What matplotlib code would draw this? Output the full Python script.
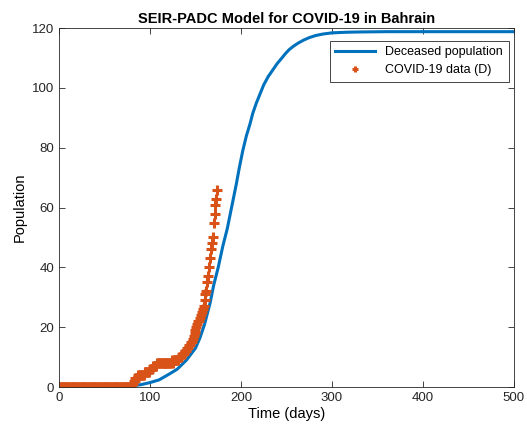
import matplotlib
matplotlib.use("Agg")
from matplotlib import pyplot as plt

plt.rcParams["font.family"] = ["Liberation Sans", "DejaVu Sans"]

# Model curve: deceased population
model_days = [0, 40, 60, 70, 80, 90, 100, 110, 122, 130, 140, 150, 155, 160,
              166, 170, 175, 180, 185, 191, 195, 198, 202, 206, 210, 213, 217,
              221, 225, 230, 235, 240, 245, 249, 253, 258, 263, 269, 275,
              282, 290, 300, 315, 330, 360, 400, 450, 500]
model_deceased = [0, 0, 0.1, 0.2, 0.4, 0.8, 1.5, 2.4, 4.5, 6, 9, 13, 16.5, 21,
                  28, 34, 40, 47, 53, 62, 68, 73, 79, 84, 88, 91.5, 95,
                  98, 101, 103.8, 106, 108.2, 110, 111.5, 112.8, 114, 115,
                  116, 116.8, 117.5, 118, 118.4, 118.6, 118.7, 118.8,
                  118.8, 118.8, 118.8]

# COVID-19 reported deaths (D), one value per day from day 0
data_deaths = [
    0, 0, 0, 0, 0, 0, 0, 0, 0, 0, 0, 0, 0, 0, 0, 0, 0, 0, 0, 0,
    0, 0, 0, 0, 0, 0, 0, 0, 0, 0, 0, 0, 0, 0, 0, 0, 0, 0, 0, 0,
    0, 0, 0, 0, 0, 0, 0, 0, 0, 0, 0, 0, 0, 0, 0, 0, 0, 0, 0, 0,
    0, 0, 0, 0, 0, 0, 0, 0, 0, 0, 0, 0, 0, 0, 0, 0, 0, 0, 0, 0,
    1, 1, 2, 2, 3, 3, 3, 4, 4, 4, 4, 4, 4, 4, 5, 5, 5, 5, 5, 5,
    6, 6, 6, 7, 7, 7, 7, 7, 8, 8, 8, 8, 8, 8, 8, 8, 8, 8, 8, 8,
    8, 8, 8, 8, 9, 8, 9, 9, 9, 9, 9, 9, 10, 10, 10, 11, 11, 11, 12, 12,
    12, 13, 13, 14, 14, 15, 15, 16, 17, 18, 19, 20, 21, 22, 22, 23, 24, 25, 26, 27,
    29, 31, 32, 35, 37, 40, 43, 46, 48, 50, 55, 58, 61, 63, 66,
]
data_days = list(range(len(data_deaths)))

fig = plt.figure(figsize=(5.27, 4.32), dpi=100)
ax = fig.add_axes([0.112, 0.104, 0.863, 0.831])

ax.plot(model_days, model_deceased, color="#0072BD", linewidth=2.2,
        label="Deceased population")
ax.plot(data_days, data_deaths, linestyle="none", marker="+",
        markersize=7, markeredgewidth=2.2, color="#D95319",
        label="COVID-19 data (D)")

ax.set_xlim(0, 500)
ax.set_ylim(0, 120)
ax.set_xticks([0, 100, 200, 300, 400, 500])
ax.set_yticks([0, 20, 40, 60, 80, 100, 120])
ax.tick_params(direction="in", top=True, right=True, labelsize=9.5,
               colors="#262626", length=4, width=0.6)
for s in ax.spines.values():
    s.set_color("#262626")
    s.set_linewidth(0.6)

ax.set_title("SEIR-PADC Model for COVID-19 in Bahrain", fontsize=10.5,
             fontweight="bold", pad=4)
ax.set_xlabel("Time (days)", fontsize=10.5, labelpad=2)
ax.set_ylabel("Population", fontsize=10.5, labelpad=4)

leg = ax.legend(loc="upper right", bbox_to_anchor=(0.997, 0.975),
                fontsize=9, fancybox=False, edgecolor="#262626",
                framealpha=1, borderaxespad=0.3, handlelength=3.2,
                borderpad=0.45, labelspacing=0.45, markerscale=0.7)
leg.get_frame().set_linewidth(0.6)

fig.savefig("out.png", dpi=100)
